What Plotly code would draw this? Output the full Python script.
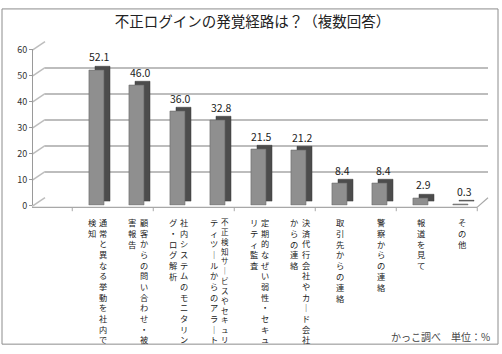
import plotly.graph_objects as go

# ---- data ----
categories = [
    "通常と異なる挙動を社内で検知",
    "顧客からの問い合わせ・被害報告",
    "社内システムのモニタリング・ログ解析",
    "不正検知サービスやセキュリティツールからのアラート",
    "定期的なぜい弱性・セキュリティ監査",
    "決済代行会社やカード会社からの連絡",
    "取引先からの連絡",
    "警察からの連絡",
    "報道を見て",
    "その他",
]
label_lines = [
    ["通常と異なる挙動を社内で", "検知"],
    ["顧客からの問い合わせ・被", "害報告"],
    ["社内システムのモニタリン", "グ・ログ解析"],
    ["不正検知サービスやセキュリ", "ティツールからのアラート"],
    ["定期的なぜい弱性・セキュ", "リティ監査"],
    ["決済代行会社やカード会社", "からの連絡"],
    ["取引先からの連絡"],
    ["警察からの連絡"],
    ["報道を見て"],
    ["その他"],
]
values = [52.1, 46.0, 36.0, 32.8, 21.5, 21.2, 8.4, 8.4, 2.9, 0.3]
y_ticks = [0, 10, 20, 30, 40, 50, 60]
title = "不正ログインの発覚経路は？（複数回答）"
footer = "かっこ調べ　単位：%"

W, H = 502, 354
FONT = "Noto Sans CJK JP"


def px(x):
    return x / W


def py(y):
    return 1 - y / H


# geometry (pixels)
FRONT_X0, FRONT_X1 = 76.25, 481.25
FRONT_Y0, FRONT_Y1 = 206, 44
DX, DY = 6, 4
WALL_X0, WALL_X1 = 45, 488
WALL_Y0, WALL_Y1 = 198, 36
AXIS_X = 32

fig = go.Figure()

# invisible trace to create the back wall subplot
fig.add_trace(go.Scatter(x=[0], y=[0], mode="markers", marker=dict(opacity=0),
                         hoverinfo="skip", showlegend=False, xaxis="x", yaxis="y"))
# dark side/top copy of bars
fig.add_trace(go.Bar(x=categories, y=values, width=0.38, marker=dict(color="#4c4c4c",
                     line=dict(color="#3a3a3a", width=0.5)),
                     hoverinfo="skip", showlegend=False, xaxis="x2", yaxis="y2"))
# front faces
fig.add_trace(go.Bar(x=categories, y=values, width=0.38, marker=dict(color="#8f8f8f",
                     line=dict(color="#6a6a6a", width=0.6)),
                     showlegend=False, xaxis="x3", yaxis="y3"))

cat_axis = dict(type="category", categoryorder="array", categoryarray=categories,
                range=[-0.5, len(categories) - 0.5], visible=False, showgrid=False)

fig.update_layout(
    width=W, height=H,
    margin=dict(l=0, r=0, t=0, b=0),
    paper_bgcolor="white", plot_bgcolor="rgba(0,0,0,0)",
    font=dict(family=FONT, color="#222"),
    title=dict(text=title, x=0.503, y=py(22), xanchor="center", yanchor="middle",
               font=dict(size=14.5, family=FONT, color="#222")),
    xaxis=dict(domain=[px(WALL_X0), px(WALL_X1)], range=[0, 1], visible=False, anchor="y"),
    yaxis=dict(domain=[py(WALL_Y0), py(WALL_Y1)], range=[0, 60], dtick=10,
               showgrid=True, gridcolor="#bdbdbd", gridwidth=1.5, zeroline=False,
               showticklabels=False, ticks="", showline=False, anchor="x"),
    xaxis2=dict(cat_axis, domain=[px(FRONT_X0 + DX), px(FRONT_X1 + DX)], anchor="y2"),
    yaxis2=dict(domain=[py(FRONT_Y0 - DY), py(FRONT_Y1 - DY)], range=[0, 60],
                visible=False, showgrid=False, anchor="x2"),
    xaxis3=dict(cat_axis, domain=[px(FRONT_X0), px(FRONT_X1)], anchor="y3"),
    yaxis3=dict(domain=[py(FRONT_Y0), py(FRONT_Y1)], range=[0, 60], tickvals=y_ticks,
                anchor="free", position=px(AXIS_X), showline=True, linecolor="#9a9a9a",
                ticks="outside", ticklen=3, tickcolor="#9a9a9a", showgrid=False,
                zeroline=False, tickfont=dict(size=9, color="#333", family=FONT)),
    bargap=0,
)

shapes = []
# outer frame
shapes.append(dict(type="rect", xref="paper", yref="paper", x0=px(2), x1=px(498),
                   y0=py(350), y1=py(2), line=dict(color="#8c8c8c", width=1), layer="below"))
# left wall slanted grid lines
scale = (FRONT_Y0 - FRONT_Y1) / 60.0
for v in y_ticks:
    yf = FRONT_Y0 + 1 - v * scale
    yb = WALL_Y0 - v * (WALL_Y0 - WALL_Y1) / 60.0
    shapes.append(dict(type="line", xref="paper", yref="paper", x0=px(AXIS_X), y0=py(yf),
                       x1=px(WALL_X0), y1=py(yb), line=dict(color="#bdbdbd", width=1.5),
                       layer="below"))
# floor front edge and right edge
floor_y = 208
shapes.append(dict(type="line", xref="paper", yref="paper", x0=px(AXIS_X), y0=py(floor_y),
                   x1=px(477), y1=py(floor_y), line=dict(color="#a8a8a8", width=1.2),
                   layer="below"))
shapes.append(dict(type="line", xref="paper", yref="paper", x0=px(477), y0=py(floor_y),
                   x1=px(WALL_X1), y1=py(WALL_Y0), line=dict(color="#a8a8a8", width=1.2),
                   layer="below"))
# floor ticks every two categories
step = (FRONT_X1 - FRONT_X0) / len(categories)
for k in range(0, len(categories) + 1, 2):
    xt = FRONT_X0 - 4 + k * step
    shapes.append(dict(type="line", xref="paper", yref="paper", x0=px(xt), y0=py(floor_y),
                       x1=px(xt), y1=py(floor_y + 4), line=dict(color="#a8a8a8", width=1),
                       layer="below"))
fig.update_layout(shapes=shapes)

annotations = []
# value labels
for c, v in zip(categories, values):
    annotations.append(dict(x=c, y=v, xref="x3", yref="y3", text=f"{v:.1f}",
                            showarrow=False, xshift=3, yshift=13, yanchor="middle",
                            font=dict(size=10.5, color="#222", family=FONT)))
# vertical category labels (right-to-left columns), one annotation per column
LABEL_TOP = 215
COL_SPAN = 128
for c, lines in zip(categories, label_lines):
    n = len(lines)
    for j, line in enumerate(lines):
        xs = 1 + (n - 1) * 5.5 - j * 11
        chars = ["｜" if ch == "ー" else ch for ch in line]
        fs = min(8.3, COL_SPAN / (1.3 * len(chars)))
        annotations.append(dict(x=c, xref="x3", y=py(LABEL_TOP), yref="paper",
                                text="<br>".join(chars), showarrow=False, xshift=xs,
                                xanchor="center", yanchor="top", align="center",
                                font=dict(size=fs, color="#222", family=FONT)))
# footer
annotations.append(dict(x=px(492), y=py(342), xref="paper", yref="paper", text=footer,
                        showarrow=False, xanchor="right", yanchor="middle",
                        font=dict(size=10, color="#444", family=FONT)))
fig.update_layout(annotations=annotations)

fig.write_html("out.html")
